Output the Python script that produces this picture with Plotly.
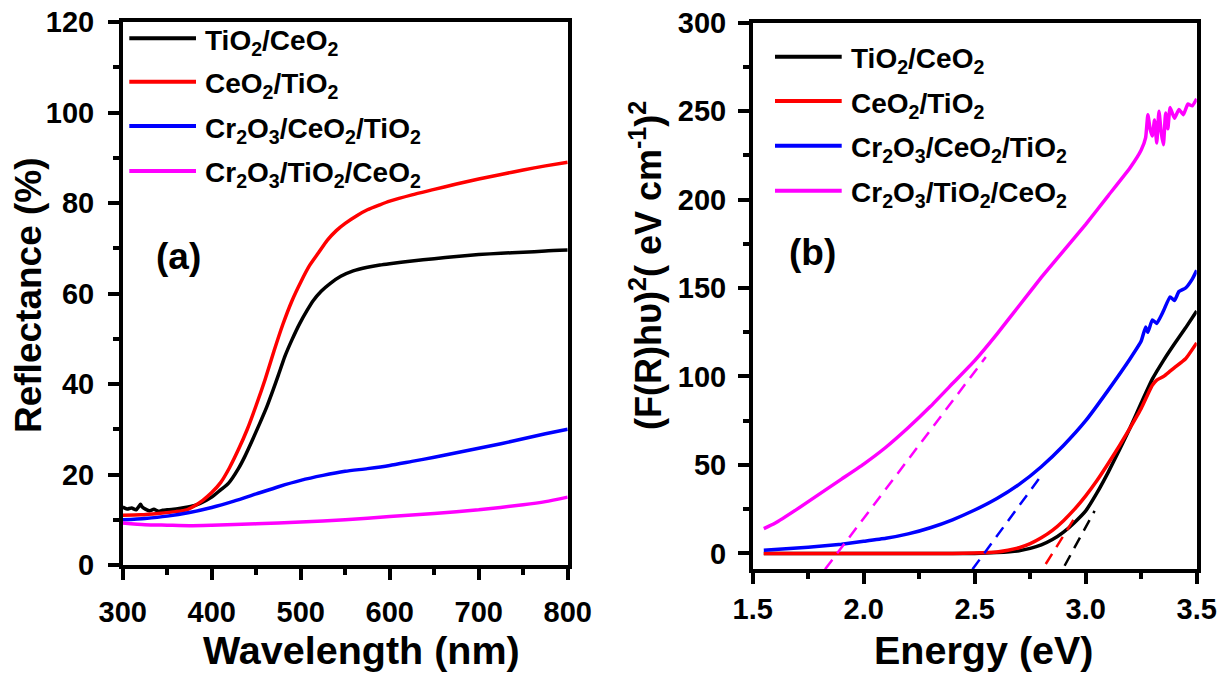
import plotly.graph_objects as go

# ---------------- data: panel (a) reflectance ----------------
wl_black = [300, 305, 310, 315, 318, 320, 322, 325, 330, 335, 340, 345, 350, 360, 370, 380, 387, 400,
            410, 419, 430, 437, 445, 454, 462, 469, 475, 482, 490, 499, 507, 514, 523, 533, 545, 559,
            575, 589, 600, 625, 650, 675, 700, 725, 750, 775, 800]
refl_black = [12.8, 12.4, 12.6, 12.2, 12.9, 13.4, 12.8, 12.4, 12.0, 12.3, 11.9, 12.1, 12.2, 12.4, 12.7,
              13.1, 13.6, 15.0, 16.6, 18.1, 21.3, 23.9, 27.3, 31.3, 35.0, 38.7, 42.0, 46.0, 49.7, 53.4,
              56.2, 58.4, 60.5, 62.2, 63.8, 65.0, 65.8, 66.3, 66.6, 67.2, 67.7, 68.2, 68.6, 68.9, 69.1,
              69.4, 69.6]

wl_red = [300, 320, 340, 360, 372, 380, 390, 400, 410, 420, 430, 440, 450, 460, 470, 480, 490, 500,
          510, 520, 530, 540, 550, 563, 575, 589, 600, 625, 650, 675, 700, 725, 750, 775, 800]
refl_red = [11.0, 11.1, 11.4, 11.8, 12.2, 13.0, 14.3, 16.0, 18.2, 21.5, 25.5, 30.0, 35.3, 41.0, 47.3,
            53.2, 58.3, 62.5, 66.2, 69.0, 71.8, 73.9, 75.5, 77.2, 78.5, 79.6, 80.4, 81.8, 83.0, 84.2,
            85.3, 86.3, 87.3, 88.2, 89.0]

wl_blue = [300, 325, 350, 375, 400, 425, 450, 475, 500, 525, 550, 575, 600, 625, 650, 675, 700, 725,
           750, 775, 800]
refl_blue = [10.0, 10.3, 10.8, 11.6, 12.7, 14.1, 15.7, 17.3, 18.7, 19.8, 20.7, 21.3, 22.0, 22.9, 23.8,
             24.8, 25.8, 26.8, 27.9, 29.0, 30.0]

wl_mag = [300, 325, 350, 375, 400, 450, 500, 550, 600, 650, 700, 750, 775, 800]
refl_mag = [9.3, 8.9, 8.8, 8.7, 8.8, 9.1, 9.5, 10.0, 10.7, 11.4, 12.2, 13.3, 14.0, 15.0]

# ---------------- data: panel (b) Tauc plot ----------------
e_black = [1.55, 1.8, 2.0, 2.2, 2.4, 2.5, 2.6, 2.7, 2.75, 2.8, 2.85, 2.9, 2.95, 3.0, 3.05, 3.1, 3.15,
           3.2, 3.25, 3.3, 3.35, 3.4, 3.45, 3.5]
t_black = [0, 0, 0, 0, 0, 0, 0.5, 1.5, 2.8, 4.8, 7.8, 12.0, 17.5, 24.0, 34.0, 45.5, 58.0, 71.0, 85.0,
           98.5, 109.0, 118.5, 127.5, 137.0]

e_red = [1.55, 1.8, 2.0, 2.2, 2.4, 2.5, 2.6, 2.65, 2.7, 2.75, 2.8, 2.85, 2.9, 2.95, 3.0, 3.05, 3.1,
         3.15, 3.2, 3.25, 3.28, 3.3, 3.32, 3.35, 3.38, 3.4, 3.45, 3.5]
t_red = [0, 0, 0, 0, 0, 0.2, 0.8, 1.8, 3.2, 5.5, 8.8, 13.0, 18.5, 25.0, 32.5, 41.0, 50.5, 60.5, 71.0,
         82.0, 90.0, 95.0, 98.0, 100.0, 103.0, 105.0, 110.0, 119.0]

e_blue = [1.55, 1.6, 1.7, 1.8, 1.9, 2.0, 2.1, 2.2, 2.3, 2.4, 2.5, 2.6, 2.7, 2.8, 2.9, 3.0, 3.1, 3.2,
          3.25, 3.27, 3.28, 3.3, 3.32, 3.35, 3.38, 3.4, 3.42, 3.45, 3.48, 3.5]
t_blue = [1.8, 2.2, 3.0, 4.0, 5.2, 6.8, 8.5, 11.0, 14.5, 19.0, 24.5, 31.0, 39.0, 49.0, 61.0, 75.0,
          92.0, 110.0, 120.0, 128.0, 125.0, 132.0, 130.0, 137.0, 145.0, 143.0, 148.0, 150.0, 155.0, 160.0]

e_mag = [1.55, 1.6, 1.7, 1.8, 1.9, 2.0, 2.1, 2.2, 2.3, 2.4, 2.5, 2.6, 2.7, 2.8, 2.9, 3.0, 3.1, 3.2,
         3.25, 3.27, 3.28, 3.29, 3.30, 3.31, 3.32, 3.33, 3.34, 3.35, 3.36, 3.37, 3.38, 3.40, 3.42, 3.44,
         3.46, 3.48, 3.50]
t_mag = [14, 17, 25, 33.5, 42, 50.5, 60, 71, 83, 96, 109, 124, 140, 156, 171, 186, 202, 218, 228, 235,
         248, 240, 236, 245, 232, 250, 238, 231, 249, 240, 252, 246, 251, 248, 254, 253, 257]

# tangent (extrapolation) lines
tan_mag_x, tan_mag_y = [1.826, 2.55], [-9, 111]
tan_blue_x, tan_blue_y = [2.49, 2.80], [-9, 44]
tan_red_x, tan_red_y = [2.82, 2.95], [-6, 20]
tan_black_x, tan_black_y = [2.905, 3.04], [-7, 24]

names = ["TiO<sub>2</sub>/CeO<sub>2</sub>", "CeO<sub>2</sub>/TiO<sub>2</sub>",
         "Cr<sub>2</sub>O<sub>3</sub>/CeO<sub>2</sub>/TiO<sub>2</sub>",
         "Cr<sub>2</sub>O<sub>3</sub>/TiO<sub>2</sub>/CeO<sub>2</sub>"]
colors = ["#000000", "#ff0000", "#0000ff", "#ff00ff"]

W, H = 1225, 673
FONT = "Liberation Sans, Arial, sans-serif"

fig = go.Figure()

panel_a = [(wl_black, refl_black), (wl_red, refl_red), (wl_blue, refl_blue), (wl_mag, refl_mag)]
for (x, y), c, n in zip(panel_a, colors, names):
    fig.add_trace(go.Scatter(x=x, y=y, mode="lines", name=n, showlegend=False,
                             line=dict(color=c, width=3.5, shape="spline", smoothing=0.6),
                             xaxis="x", yaxis="y"))

panel_b = [(e_black, t_black), (e_red, t_red), (e_blue, t_blue), (e_mag, t_mag)]
for (x, y), c, n in zip(panel_b, colors, names):
    fig.add_trace(go.Scatter(x=x, y=y, mode="lines", name=n, showlegend=False,
                             line=dict(color=c, width=3.5, shape="spline", smoothing=0.4),
                             xaxis="x2", yaxis="y2"))

tangents = [(tan_black_x, tan_black_y), (tan_red_x, tan_red_y), (tan_blue_x, tan_blue_y),
            (tan_mag_x, tan_mag_y)]
for (x, y), c in zip(tangents, colors):
    fig.add_trace(go.Scatter(x=x, y=y, mode="lines", showlegend=False,
                             line=dict(color=c, width=2.5, dash="12px,8px"),
                             xaxis="x2", yaxis="y2"))


def px_x(p):
    return p / W


def px_y(p):
    return 1 - p / H


axis_common = dict(showline=True, linewidth=3.5, linecolor="black", mirror=True,
                   ticks="outside", ticklen=11, tickwidth=3.5, tickcolor="black",
                   showgrid=False, zeroline=False, automargin=False,
                   tickfont=dict(family=FONT, size=29, color="black", weight="bold"))

fig.update_layout(
    width=W, height=H,
    margin=dict(l=0, r=0, t=0, b=0, pad=0),
    paper_bgcolor="white", plot_bgcolor="white",
    showlegend=False,
    xaxis=dict(domain=[px_x(122.7), px_x(567.7)], range=[300, 800], dtick=100, tick0=300,
               minor=dict(ticks="outside", ticklen=6, tickwidth=3.5, dtick=50, tickcolor="black"),
               anchor="y", ticklabelstandoff=7, **axis_common),
    yaxis=dict(domain=[px_y(565), px_y(22)], range=[0, 120], dtick=20, tick0=0,
               minor=dict(ticks="outside", ticklen=6, tickwidth=3.5, dtick=10, tickcolor="black"),
               anchor="x", ticklabelstandoff=8, **axis_common),
    xaxis2=dict(domain=[px_x(752.7), px_x(1196.7)], range=[1.5, 3.5], dtick=0.5, tick0=1.5,
                tickformat=".1f",
                minor=dict(ticks="outside", ticklen=6, tickwidth=3.5, dtick=0.25, tickcolor="black"),
                anchor="y2", ticklabelstandoff=0, **axis_common),
    yaxis2=dict(domain=[px_y(569.3), px_y(22.7)], range=[-9, 300], dtick=50, tick0=0,
                minor=dict(ticks="outside", ticklen=6, tickwidth=3.5, dtick=25, tickcolor="black"),
                anchor="x2", ticklabelstandoff=6, **axis_common),
)

ann = []
title_font = dict(family=FONT, size=39.5, color="black", weight="bold")
# axis titles
ann.append(dict(text="Wavelength (nm)", x=px_x(361), y=px_y(650), xref="paper", yref="paper",
                showarrow=False, xanchor="center", yanchor="middle", font=title_font))
ann.append(dict(text="Energy (eV)", x=px_x(984), y=px_y(650), xref="paper", yref="paper",
                showarrow=False, xanchor="center", yanchor="middle", font=title_font))
ann.append(dict(text="Reflectance (%)", x=px_x(28), y=px_y(295), xref="paper", yref="paper",
                showarrow=False, xanchor="center", yanchor="middle", textangle=-90,
                font=dict(family=FONT, size=37, color="black", weight="bold")))
ann.append(dict(text="(F(R)hυ)<sup>2</sup>( eV cm<sup>-1</sup>)<sup>2</sup>", x=px_x(646), y=px_y(266),
                xref="paper", yref="paper", showarrow=False, xanchor="center", yanchor="middle",
                textangle=-90, font=dict(family=FONT, size=36, color="black", weight="bold")))
# panel labels
ann.append(dict(text="(a)", x=px_x(178), y=px_y(256), xref="paper", yref="paper", showarrow=False,
                xanchor="center", yanchor="middle", font=dict(family=FONT, size=37, color="black", weight="bold")))
ann.append(dict(text="(b)", x=px_x(812), y=px_y(252), xref="paper", yref="paper", showarrow=False,
                xanchor="center", yanchor="middle", font=dict(family=FONT, size=37, color="black", weight="bold")))

shapes = []
leg_font = dict(family=FONT, size=28, color="black", weight="bold")
leg_a_rows = [38.3, 81.7, 126, 171]
leg_b_rows = [56.7, 101, 145.7, 190.7]
for rows, x0, x1, xt in [(leg_a_rows, 129.3, 196, 202.7), (leg_b_rows, 775, 841.7, 849.3)]:
    for r, c, n in zip(rows, colors, names):
        shapes.append(dict(type="line", xref="paper", yref="paper", x0=px_x(x0), x1=px_x(x1),
                           y0=px_y(r), y1=px_y(r), line=dict(color=c, width=4)))
        ann.append(dict(text=n, x=px_x(xt), y=px_y(r + 4), xref="paper", yref="paper", showarrow=False,
                        xanchor="left", yanchor="middle", font=leg_font))

fig.update_layout(annotations=ann, shapes=shapes)

fig.write_html("out.html", config={"displayModeBar": False},
               post_script="document.body.style.margin='0';")
